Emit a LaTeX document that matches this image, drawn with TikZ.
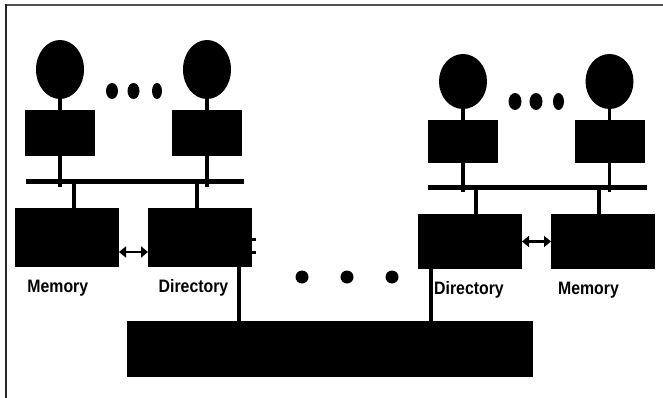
\documentclass[tikz,border=0pt]{standalone}
\usepackage{fontspec}
\setmainfont{Liberation Sans}
\usetikzlibrary{shapes.geometric,arrows.meta}

\newcommand{\narrowtext}[1]{\scalebox{0.88}[1]{#1}}

\begin{document}
\begin{tikzpicture}[x=1pt,y=-1pt,
  blk/.style={rectangle,fill=black,draw=none,inner sep=0pt,outer sep=0pt},
  cpu/.style={ellipse,fill=black,draw=none,inner sep=0pt,outer sep=0pt,
              minimum width=48pt,minimum height=#1},
  dot/.style={ellipse,fill=black,draw=none,inner sep=0pt,outer sep=0pt},
  wire/.style={line width=3.6pt},
  link/.style={line width=2.6pt,{Triangle[width=11pt,length=7pt]}-{Triangle[width=11pt,length=7pt]}},
  lbl/.style={inner sep=0pt,anchor=base,font=\fontsize{18}{20}\selectfont\bfseries}
]
\useasboundingbox (0,0) rectangle (663,398);

% outer frame (only top and left edges are visible)
\fill[black!68] (5,4.5) rectangle (663,6.5);
\fill[black!85] (5,4.5) rectangle (7,398);

% ---------- left node ----------
\node[cpu=59pt] (p1) at (60,69.5) {};
\node[cpu=59pt] (p2) at (207,69.5) {};
\node[dot,minimum width=12pt,minimum height=16pt] (d1) at (112,91) {};
\node[dot,minimum width=12pt,minimum height=16pt] (d2) at (133.5,91) {};
\node[dot,minimum width=10pt,minimum height=16pt] (d3) at (157,91) {};
\node[blk,minimum width=70pt,minimum height=46pt] (c1) at (60,133) {};
\node[blk,minimum width=70pt,minimum height=46pt] (c2) at (207,133) {};
\node[blk,minimum width=218pt,minimum height=5pt] (bus1) at (135,181.5) {};
\node[blk,minimum width=104pt,minimum height=59pt] (mem1) at (67,237.5) {};
\node[blk,minimum width=104pt,minimum height=59pt] (dir1) at (200,237.5) {};

\draw[wire] (p1.south) -- (c1.north);
\draw[wire] (p2.south) -- (c2.north);
\draw[wire] (c1.south) -- ++(0,31);
\draw[wire] (c2.south) -- ++(0,31);
\draw[wire] ([xshift=7pt]mem1.north) -- ([xshift=7pt]mem1.north |- bus1.center);
\draw[wire] ([xshift=-3pt]dir1.north) -- ([xshift=-3pt]dir1.north |- bus1.center);
\draw[link] ([yshift=-14.5pt]mem1.east) -- ([yshift=-14.5pt]dir1.west);

% small marks on the right side of the directory
\fill (dir1.east |- 0,237.5) rectangle ++(3.5,3);
\fill (dir1.east |- 0,250.5) rectangle ++(3.5,3);

\node[lbl] (lm1) at (57.8,292.7) {\narrowtext{Memory}};
\node[lbl] (ld1) at (193.5,292.7) {\narrowtext{Directory}};

% ---------- right node ----------
\node[cpu=55pt] (p3) at (463,81.5) {};
\node[cpu=55pt] (p4) at (609.5,81.5) {};
\node[dot,minimum width=13pt,minimum height=17pt] (d4) at (515,101.5) {};
\node[dot,minimum width=13pt,minimum height=17pt] (d5) at (536,101.5) {};
\node[dot,minimum width=11pt,minimum height=17pt] (d6) at (558.5,101.5) {};
\node[blk,minimum width=70pt,minimum height=43pt] (c3) at (463,141.5) {};
\node[blk,minimum width=70pt,minimum height=43pt] (c4) at (610,141.5) {};
\node[blk,minimum width=219pt,minimum height=5pt] (bus2) at (537.5,187) {};
\node[blk,minimum width=104pt,minimum height=55pt] (dir2) at (470,241.5) {};
\node[blk,minimum width=104pt,minimum height=55pt] (mem2) at (603,241.5) {};

\draw[wire] (p3.south) -- (c3.north);
\draw[wire] (p4.south) -- (c4.north -| p4.south);
\draw[wire] (c3.south) -- ++(0,29);
\draw[wire] (c4.south -| p4.south) -- ++(0,29);
\draw[wire] ([xshift=6pt]dir2.north) -- ([xshift=6pt]dir2.north |- bus2.center);
\draw[wire] ([xshift=-4pt]mem2.north) -- ([xshift=-4pt]mem2.north |- bus2.center);
\draw[link] (dir2.east) -- (mem2.west);

\node[lbl] (ld2) at (469,294.7) {\narrowtext{Directory}};
\node[lbl] (lm2) at (588.5,294.7) {\narrowtext{Memory}};

% ---------- interconnect ----------
\node[blk,minimum width=406pt,minimum height=56pt] (net) at (330,349) {};
\draw[wire] ([xshift=39pt]dir1.south) -- ([xshift=39pt]dir1.south |- net.north);
\draw[wire] ([xshift=-39pt]dir2.south) -- ([xshift=-39pt]dir2.south |- net.north);

\node[dot,minimum width=13pt,minimum height=13pt] (m1) at (302,277) {};
\node[dot,minimum width=13pt,minimum height=13pt] (m2) at (347,277) {};
\node[dot,minimum width=13pt,minimum height=13pt] (m3) at (392,277) {};
\end{tikzpicture}
\end{document}
